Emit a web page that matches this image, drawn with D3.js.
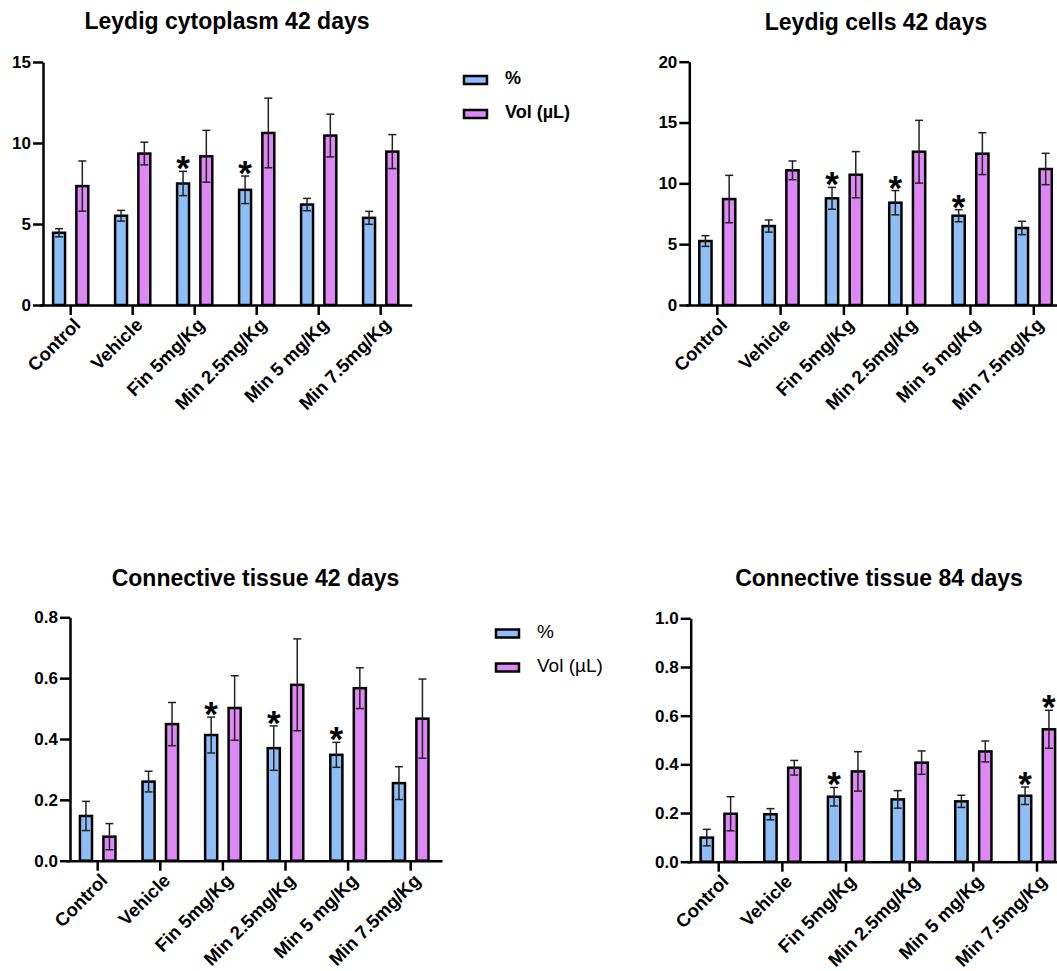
<!doctype html>
<html>
<head>
<script src="https://cdn.jsdelivr.net/npm/d3@7"></script>
<style>
body { margin: 0; background: #fff; }
text { font-family: "Liberation Sans", Arial, sans-serif; }
</style>
</head>
<body>
<script>
// groups on the x axis, shared by all four panels
var groups = ["Control", "Vehicle", "Fin 5mg/Kg", "Min 2.5mg/Kg", "Min 5 mg/Kg", "Min 7.5mg/Kg"];
var seriesNames = ["%", "Vol (µL)"];
var seriesColors = ["#8fbef6", "#de88f5"];

// Leydig cytoplasm 42 days
var cytoPct = [4.46, 5.51, 7.50, 7.11, 6.20, 5.38];
var cytoPctErr = [0.25, 0.33, 0.75, 0.85, 0.38, 0.40];
var cytoVol = [7.34, 9.35, 9.18, 10.62, 10.46, 9.47];
var cytoVolErr = [1.55, 0.70, 1.60, 2.15, 1.32, 1.05];
var cytoPctStar = [0, 0, 1, 1, 0, 0];
var cytoVolStar = [0, 0, 0, 0, 0, 0];

// Leydig cells 42 days
var cellsPct = [5.26, 6.49, 8.77, 8.41, 7.34, 6.33];
var cellsPctErr = [0.44, 0.50, 0.90, 1.00, 0.50, 0.55];
var cellsVol = [8.71, 11.07, 10.71, 12.60, 12.44, 11.18];
var cellsVolErr = [1.95, 0.77, 1.90, 2.58, 1.72, 1.29];
var cellsPctStar = [0, 0, 1, 1, 1, 0];
var cellsVolStar = [0, 0, 0, 0, 0, 0];

// Connective tissue 42 days
var ct42Pct = [0.147, 0.260, 0.413, 0.370, 0.348, 0.255];
var ct42PctErr = [0.048, 0.034, 0.059, 0.073, 0.041, 0.054];
var ct42Vol = [0.079, 0.449, 0.502, 0.578, 0.567, 0.467];
var ct42VolErr = [0.043, 0.071, 0.106, 0.151, 0.067, 0.130];
var ct42PctStar = [0, 0, 1, 1, 1, 0];
var ct42VolStar = [0, 0, 0, 0, 0, 0];

// Connective tissue 84 days
var ct84Pct = [0.099, 0.195, 0.267, 0.256, 0.248, 0.271];
var ct84PctErr = [0.034, 0.023, 0.038, 0.036, 0.025, 0.036];
var ct84Vol = [0.197, 0.386, 0.371, 0.407, 0.453, 0.544];
var ct84VolErr = [0.070, 0.030, 0.081, 0.048, 0.043, 0.078];
var ct84PctStar = [0, 0, 1, 0, 0, 1];
var ct84VolStar = [0, 0, 0, 0, 0, 1];

// y ticks
var ticks15 = [0, 5, 10, 15];
var ticks20 = [0, 5, 10, 15, 20];
var ticks08 = [0, 0.2, 0.4, 0.6, 0.8];
var ticks10 = [0, 0.2, 0.4, 0.6, 0.8, 1.0];

var svg = d3.select("body").append("svg")
    .attr("width", 1057)
    .attr("height", 971);

var panels = [
  { title: "Leydig cytoplasm 42 days", titleX: 227, titleY: 29,
    axisX: 43, firstTick: 70.7, step: 62, top: 62, bottom: 305, yMax: 15, ticks: ticks15, fmt: d3.format("d"),
    vals: [cytoPct, cytoVol], errs: [cytoPctErr, cytoVolErr], stars: [cytoPctStar, cytoVolStar],
    legend: { x: 464, y: 80, bold: true } },
  { title: "Leydig cells 42 days", titleX: 876, titleY: 30,
    axisX: 689.3, firstTick: 717.3, step: 63.3, top: 61.7, bottom: 305, yMax: 20, ticks: ticks20, fmt: d3.format("d"),
    vals: [cellsPct, cellsVol], errs: [cellsPctErr, cellsVolErr], stars: [cellsPctStar, cellsVolStar] },
  { title: "Connective tissue 42 days", titleX: 255.5, titleY: 585.5,
    axisX: 70, firstTick: 97.7, step: 62.6, top: 617.3, bottom: 860.7, yMax: 0.8, ticks: ticks08, fmt: d3.format(".1f"),
    vals: [ct42Pct, ct42Vol], errs: [ct42PctErr, ct42VolErr], stars: [ct42PctStar, ct42VolStar],
    legend: { x: 496, y: 633.5, bold: false } },
  { title: "Connective tissue 84 days", titleX: 879, titleY: 586,
    axisX: 690.7, firstTick: 718.7, step: 63.66, top: 618.3, bottom: 861.7, yMax: 1.0, ticks: ticks10, fmt: d3.format(".1f"),
    vals: [ct84Pct, ct84Vol], errs: [ct84PctErr, ct84VolErr], stars: [ct84PctStar, ct84VolStar] }
];

panels.forEach(drawPanel);

function drawPanel(p) {
  var g = svg.append("g");

  var y = d3.scaleLinear().domain([0, p.yMax]).range([p.bottom, p.top]);
  var x0 = d3.scaleBand().domain(groups)
      .range([p.firstTick - p.step / 2, p.firstTick + p.step * 5.5]);
  var x1 = d3.scaleBand().domain([0, 1])
      .range([x0.bandwidth() * 0.2, x0.bandwidth() * 0.8])
      .paddingInner(0.4);

  // title
  g.append("text")
    .attr("x", p.titleX)
    .attr("y", p.titleY)
    .attr("text-anchor", "middle")
    .style("font-size", "23px")
    .style("font-weight", "bold")
    .text(p.title);

  // bars
  var rows = [];
  groups.forEach(function(grp, i) {
    [0, 1].forEach(function(s) {
      rows.push({ grp: grp, s: s, v: p.vals[s][i], e: p.errs[s][i], star: p.stars[s][i] });
    });
  });

  var bw = x1.bandwidth();
  g.selectAll(".bar")
    .data(rows)
    .enter().append("rect")
    .attr("x", d => x0(d.grp) + x1(d.s) + 1)
    .attr("width", bw - 2)
    .attr("y", d => y(d.v))
    .attr("height", d => y(0) - y(d.v))
    .attr("fill", d => seriesColors[d.s])
    .attr("stroke", "#000")
    .attr("stroke-width", 2.5);

  // error bars
  var cx = d => x0(d.grp) + x1(d.s) + bw / 2;
  var eb = g.selectAll(".err").data(rows).enter().append("g")
    .attr("stroke", "#222").attr("stroke-width", 1.5);
  eb.append("line")
    .attr("x1", cx).attr("x2", cx)
    .attr("y1", d => y(d.v - d.e)).attr("y2", d => y(d.v + d.e));
  eb.append("line")
    .attr("x1", d => cx(d) - 4).attr("x2", d => cx(d) + 4)
    .attr("y1", d => y(d.v + d.e)).attr("y2", d => y(d.v + d.e));
  eb.append("line")
    .attr("x1", d => cx(d) - 4).attr("x2", d => cx(d) + 4)
    .attr("y1", d => y(d.v - d.e)).attr("y2", d => y(d.v - d.e));

  // stars
  g.selectAll(".star")
    .data(rows.filter(d => d.star))
    .enter().append("text")
    .attr("x", cx)
    .attr("y", d => y(d.v + d.e) + 9)
    .attr("text-anchor", "middle")
    .style("font-size", "35px")
    .style("font-weight", "bold")
    .text("*");

  // axes
  var yAxis = g.append("g")
    .attr("transform", "translate(" + p.axisX + ",0)")
    .call(d3.axisLeft(y).tickValues(p.ticks).tickFormat(p.fmt).tickSize(10).tickSizeOuter(0));

  var xAxis = g.append("g")
    .attr("transform", "translate(0," + p.bottom + ")")
    .call(d3.axisBottom(x0).tickSize(10).tickSizeOuter(0));

  [yAxis, xAxis].forEach(function(a) {
    a.select(".domain").attr("stroke", "#000").attr("stroke-width", 2.5);
    a.selectAll(".tick line").attr("stroke", "#000").attr("stroke-width", 2.5);
    a.selectAll("text")
      .attr("fill", "#000")
      .style("font-family", "'Liberation Sans', Arial, sans-serif")
      .style("font-size", "17px")
      .style("font-weight", "bold");
  });
  yAxis.selectAll("text").attr("x", -12);

  xAxis.selectAll("text")
    .style("font-size", "18.5px")
    .attr("text-anchor", "end")
    .attr("x", 0).attr("y", 0).attr("dy", 0)
    .attr("transform", "translate(11,21) rotate(-45)");

  if (p.legend) drawLegend(p.legend);
}

function drawLegend(L) {
  var lg = svg.append("g").attr("transform", "translate(" + L.x + "," + L.y + ")");
  seriesNames.forEach(function(name, i) {
    lg.append("rect")
      .attr("x", 0).attr("y", i * 34 - 4)
      .attr("width", 23).attr("height", 8)
      .attr("fill", seriesColors[i])
      .attr("stroke", "#000")
      .attr("stroke-width", 2.5);
    lg.append("text")
      .attr("x", 41).attr("y", i * 34 + 4)
      .style("font-size", L.bold ? "18px" : "19px")
      .style("font-weight", L.bold ? "bold" : "normal")
      .text(name);
  });
}
</script>
</body>
</html>
